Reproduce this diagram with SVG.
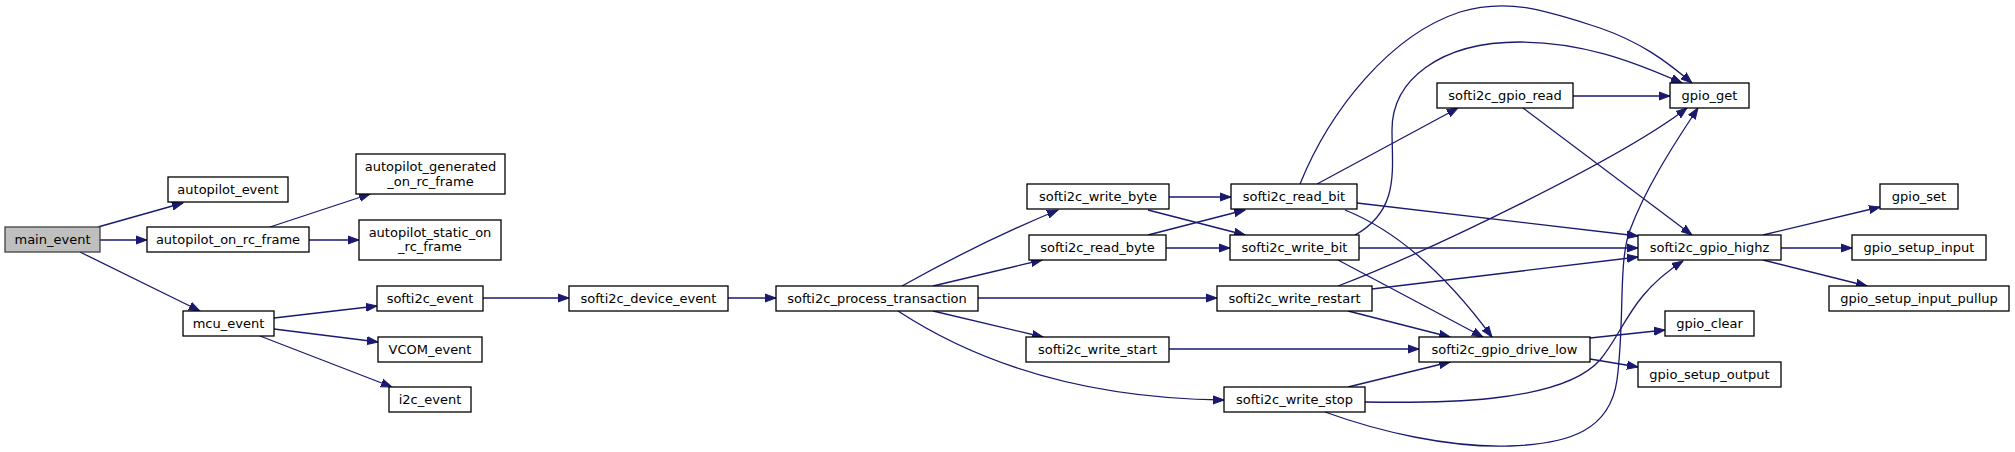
<svg xmlns="http://www.w3.org/2000/svg" width="2015" height="452" viewBox="0 0 2015 452">
<style>
.n rect{fill:#ffffff;stroke:#000000;stroke-width:1.3}
.n.main rect{fill:#bfbfbf;stroke:#404040}
.n text{font-family:"DejaVu Sans",sans-serif;font-size:13px;fill:#000000;text-anchor:middle}
#edges path{fill:none;stroke:#191970;stroke-width:1.3;marker-end:url(#ah)}
</style>
<defs>
<marker id="ah" markerUnits="userSpaceOnUse" markerWidth="12" markerHeight="10" refX="11" refY="4.5" orient="auto" viewBox="0 0 12 9">
<path d="M0,0.5 L11,4.5 L0,8.5 Z" fill="#191970" stroke="#191970" stroke-width="1"/>
</marker>
</defs>
<rect width="2015" height="452" fill="#ffffff"/>
<g id="edges">
<path d="M98,227 L183,203"/>
<path d="M100,240 L147,240"/>
<path d="M80,252 L200,311"/>
<path d="M270,227 L370,194"/>
<path d="M309,240 L359,240"/>
<path d="M274,318 L377,306"/>
<path d="M274,329 L378,342"/>
<path d="M260,336 L392,387"/>
<path d="M483,298 L569,298"/>
<path d="M728,298 L776,298"/>
<path d="M902,286 C945,262 1000,234 1058,210"/>
<path d="M933,286 L1042,260"/>
<path d="M978,298 L1217,298"/>
<path d="M933,311 L1043,337"/>
<path d="M898,311 C950,345 1050,398 1224,400"/>
<path d="M1169,197 L1231,197"/>
<path d="M1148,210 L1245,235"/>
<path d="M1148,235 L1245,210"/>
<path d="M1166,248 L1230,248"/>
<path d="M1317,184 L1458,108"/>
<path d="M1300,184 C1330,110 1390,35 1460,12 C1510,-3 1550,12 1600,28 C1640,42 1665,60 1692,83"/>
<path d="M1357,203 L1638,236"/>
<path d="M1345,210 C1400,232 1450,280 1492,337"/>
<path d="M1355,235 C1400,210 1392,170 1392,130 C1392,80 1440,42 1520,42 C1580,42 1630,60 1682,83"/>
<path d="M1359,248 L1638,248"/>
<path d="M1338,260 L1483,337"/>
<path d="M1338,286 C1420,255 1620,160 1687,108"/>
<path d="M1372,289 L1638,257"/>
<path d="M1348,311 L1450,337"/>
<path d="M1169,349 L1419,349"/>
<path d="M1348,387 L1450,362"/>
<path d="M1365,402 C1430,403 1560,405 1600,360 C1625,330 1630,295 1683,261"/>
<path d="M1325,412 C1380,432 1450,448 1510,446 C1570,444 1610,430 1617,380 C1625,320 1618,262 1630,230 C1645,190 1670,150 1698,108"/>
<path d="M1573,96 L1670,96"/>
<path d="M1523,108 L1692,235"/>
<path d="M1763,235 L1880,207"/>
<path d="M1781,248 L1852,248"/>
<path d="M1763,260 L1867,286"/>
<path d="M1590,338 L1665,330"/>
<path d="M1590,359 L1638,367"/>
</g>
<g id="main_event" class="n main"><rect x="5" y="227" width="95" height="25"/><text x="52.5" y="244">main_event</text></g>
<g id="autopilot_event" class="n"><rect x="168" y="177" width="120" height="25"/><text x="228" y="194">autopilot_event</text></g>
<g id="autopilot_on_rc_frame" class="n"><rect x="147" y="227" width="162" height="25"/><text x="228" y="244">autopilot_on_rc_frame</text></g>
<g id="autopilot_generated_on_rc_frame" class="n"><rect x="356" y="154" width="149" height="40"/><text x="430.5" y="171">autopilot_generated</text><text x="430.5" y="185.5">_on_rc_frame</text></g>
<g id="autopilot_static_on_rc_frame" class="n"><rect x="359" y="220" width="142" height="40"/><text x="430" y="236.5">autopilot_static_on</text><text x="430" y="251">_rc_frame</text></g>
<g id="softi2c_event" class="n"><rect x="377" y="286" width="106" height="25"/><text x="430" y="303">softi2c_event</text></g>
<g id="mcu_event" class="n"><rect x="183" y="311" width="91" height="25"/><text x="228.5" y="328">mcu_event</text></g>
<g id="VCOM_event" class="n"><rect x="378" y="337" width="104" height="25"/><text x="430" y="354">VCOM_event</text></g>
<g id="i2c_event" class="n"><rect x="389" y="387" width="82" height="25"/><text x="430" y="404">i2c_event</text></g>
<g id="softi2c_device_event" class="n"><rect x="569" y="286" width="159" height="25"/><text x="648.5" y="303">softi2c_device_event</text></g>
<g id="softi2c_process_transaction" class="n"><rect x="776" y="286" width="202" height="25"/><text x="877" y="303">softi2c_process_transaction</text></g>
<g id="softi2c_write_byte" class="n"><rect x="1027" y="184" width="142" height="25"/><text x="1098" y="201">softi2c_write_byte</text></g>
<g id="softi2c_read_bit" class="n"><rect x="1231" y="184" width="126" height="25"/><text x="1294" y="201">softi2c_read_bit</text></g>
<g id="softi2c_read_byte" class="n"><rect x="1029" y="235" width="137" height="25"/><text x="1097.5" y="252">softi2c_read_byte</text></g>
<g id="softi2c_write_bit" class="n"><rect x="1230" y="235" width="129" height="25"/><text x="1294.5" y="252">softi2c_write_bit</text></g>
<g id="softi2c_write_restart" class="n"><rect x="1217" y="286" width="155" height="25"/><text x="1294.5" y="303">softi2c_write_restart</text></g>
<g id="softi2c_write_start" class="n"><rect x="1026" y="337" width="143" height="25"/><text x="1097.5" y="354">softi2c_write_start</text></g>
<g id="softi2c_gpio_drive_low" class="n"><rect x="1419" y="337" width="171" height="25"/><text x="1504.5" y="354">softi2c_gpio_drive_low</text></g>
<g id="softi2c_write_stop" class="n"><rect x="1224" y="387" width="141" height="25"/><text x="1294.5" y="404">softi2c_write_stop</text></g>
<g id="softi2c_gpio_read" class="n"><rect x="1437" y="83" width="136" height="25"/><text x="1505" y="100">softi2c_gpio_read</text></g>
<g id="gpio_get" class="n"><rect x="1670" y="83" width="79" height="25"/><text x="1709.5" y="100">gpio_get</text></g>
<g id="softi2c_gpio_highz" class="n"><rect x="1638" y="235" width="143" height="25"/><text x="1709.5" y="252">softi2c_gpio_highz</text></g>
<g id="gpio_set" class="n"><rect x="1880" y="184" width="78" height="25"/><text x="1919" y="201">gpio_set</text></g>
<g id="gpio_setup_input" class="n"><rect x="1852" y="235" width="134" height="25"/><text x="1919" y="252">gpio_setup_input</text></g>
<g id="gpio_setup_input_pullup" class="n"><rect x="1829" y="286" width="180" height="25"/><text x="1919" y="303">gpio_setup_input_pullup</text></g>
<g id="gpio_clear" class="n"><rect x="1665" y="311" width="89" height="25"/><text x="1709.5" y="328">gpio_clear</text></g>
<g id="gpio_setup_output" class="n"><rect x="1638" y="362" width="143" height="25"/><text x="1709.5" y="379">gpio_setup_output</text></g>
</svg>
